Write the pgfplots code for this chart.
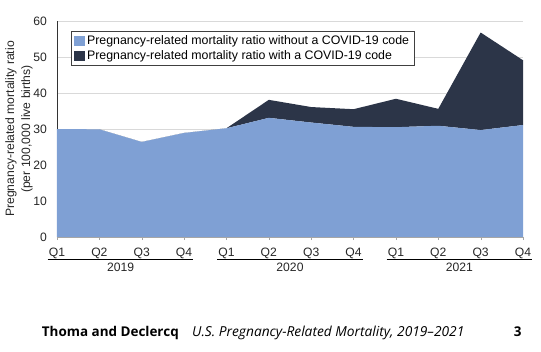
\documentclass[border=0pt]{standalone}
\usepackage{pgfplots}
\pgfplotsset{compat=1.18}
\usepackage{fontspec}
\setmainfont{Liberation Sans}
\newfontfamily\footfont{Open Sans}
\definecolor{lightarea}{RGB}{127,160,212}
\definecolor{darkarea}{RGB}{44,53,72}
\definecolor{gridgray}{RGB}{217,217,217}
\begin{document}
\begin{tikzpicture}
\useasboundingbox (-57bp,-115bp) rectangle (484bp,237bp);
\begin{axis}[
  at={(0,0)}, anchor=south west,
  scale only axis, width=466bp, height=216bp,
  xmin=0, xmax=11, ymin=0, ymax=60,
  axis lines=left, axis line style={-, draw=black!80},
  x axis line style={draw=gray!70},
  stack plots=y,
  xtick={0,...,11},
  xticklabels={Q1,Q2,Q3,Q4,Q1,Q2,Q3,Q4,Q1,Q2,Q3,Q4},
  ytick={0,10,...,60},
  ymajorgrids, grid style={gridgray, line width=0.6bp},
  tick align=outside, major tick length=3bp,
  xtick style={draw=gray!70},
  ytick style={draw=none},
  ticklabel style={font=\fontsize{12.2}{14}\selectfont, text=black!85},
  /pgf/number format/assume math mode=true,
  yticklabel style={anchor=east, inner sep=0pt, xshift=-7bp},
  xticklabel style={anchor=base, inner sep=0pt, yshift=-16.5bp},
  clip=false,
  legend style={at={(0.030,0.954)}, anchor=north west, draw=black!75, line width=0.8bp,
    font=\fontsize{12.4}{14.5}\selectfont, inner xsep=3bp, inner ysep=2.5bp, row sep=0.5bp},
  legend cell align=left,
  legend image code/.code={\path[#1, draw=none] (0bp,-5.3bp) rectangle (10.7bp,5.3bp);},
]
\addplot[fill=lightarea, draw=none] coordinates {
  (0,30.0) (1,29.9) (2,26.4) (3,28.9) (4,30.2) (5,33.1) (6,31.8) (7,30.6)
  (8,30.5) (9,30.9) (10,29.7) (11,31.1)} \closedcycle;
\addlegendentry{Pregnancy-related mortality ratio without a COVID-19 code}
\addplot[fill=darkarea, draw=none] coordinates {
  (0,0) (1,0) (2,0) (3,0) (4,0) (5,5.0) (6,4.3) (7,4.9)
  (8,7.9) (9,4.7) (10,27.1) (11,18.0)} \closedcycle;
\addlegendentry{Pregnancy-related mortality ratio with a COVID-19 code}
\end{axis}
% year groups
\pgfmathsetmacro{\u}{466/11}
\foreach \k/\yr in {0/2019,1/2020,2/2021}{
  \draw[line width=0.8bp, black] ({(\k*4-0.22)*\u*1bp},-22bp) -- ({(\k*4+3.22)*\u*1bp},-22bp);
  \node[anchor=base, inner sep=0pt, font=\fontsize{12.2}{14}\selectfont, text=black!85] at ({(\k*4+1.5)*\u*1bp},-34.7bp) {\yr};
}
% y label
\node[rotate=90, anchor=center, align=center, font=\fontsize{12.2}{16}\selectfont, text=black!85] at (-38bp,108bp)
  {Pregnancy-related mortality ratio\\(per 100,000 live births)};
% footer
\node[anchor=base west, inner sep=0pt, font=\footfont\bfseries\fontsize{13.5}{15}\selectfont] at (-15.3bp,-99.7bp) {Thoma and Declercq};
\node[anchor=base west, inner sep=0pt, font=\footfont\itshape\fontsize{13.8}{15}\selectfont] at (135bp,-99.7bp) {U.S. Pregnancy-Related Mortality, 2019–2021};
\node[anchor=base east, inner sep=0pt, font=\footfont\bfseries\fontsize{13.5}{15}\selectfont] at (464.7bp,-99.7bp) {3};
\end{tikzpicture}
\end{document}
